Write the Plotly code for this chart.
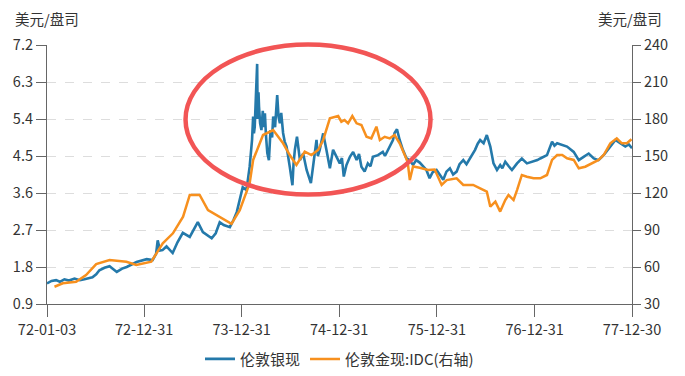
import plotly.graph_objects as go

# ---- data ----
silver_dates = [
    "1972-01-03", "1972-01-20", "1972-02-06", "1972-02-20", "1972-03-08", "1972-03-25", "1972-04-15",
    "1972-05-05", "1972-05-22", "1972-06-21", "1972-07-05",
    "1972-07-17", "1972-08-05", "1972-08-24", "1972-09-20", "1972-10-10", "1972-10-27", "1972-11-15",
    "1972-12-03", "1973-01-10",
    "1973-02-01", "1973-02-14", "1973-02-20", "1973-03-01", "1973-03-10", "1973-03-25", "1973-04-17",
    "1973-05-05", "1973-05-25", "1973-06-20", "1973-07-05",
    "1973-07-20", "1973-08-08", "1973-08-25", "1973-09-10", "1973-09-25", "1973-10-10", "1973-10-25",
    "1973-11-17", "1973-12-01", "1973-12-13",
    "1974-01-04", "1974-01-18", "1974-01-30", "1974-02-08", "1974-02-12", "1974-02-15", "1974-02-18",
    "1974-02-22", "1974-02-27", "1974-03-01", "1974-03-04",
    "1974-03-06", "1974-03-10", "1974-03-15", "1974-03-20", "1974-03-24", "1974-03-28",
    "1974-04-01", "1974-04-06", "1974-04-12", "1974-04-18",
    "1974-04-24", "1974-04-28", "1974-05-05", "1974-05-10", "1974-05-13", "1974-05-18", "1974-05-23",
    "1974-05-28", "1974-06-04", "1974-06-10", "1974-06-17", "1974-06-29",
    "1974-07-09", "1974-07-13", "1974-07-18", "1974-07-26", "1974-08-01", "1974-08-06", "1974-08-18",
    "1974-08-24", "1974-08-31",
    "1974-09-16", "1974-09-24", "1974-10-01", "1974-10-07", "1974-10-12", "1974-10-19", "1974-11-01",
    "1974-11-07", "1974-11-13",
    "1974-11-26", "1974-12-02", "1974-12-08", "1974-12-21", "1975-01-02", "1975-01-10", "1975-01-17",
    "1975-01-27",
    "1975-02-09", "1975-02-21", "1975-03-06", "1975-03-15", "1975-03-24", "1975-04-05", "1975-04-17",
    "1975-04-27", "1975-05-06", "1975-05-25", "1975-06-12", "1975-06-20", "1975-07-01", "1975-07-20",
    "1975-07-26",
    "1975-08-04", "1975-08-14", "1975-08-26", "1975-09-08", "1975-09-20", "1975-10-03", "1975-10-15",
    "1975-10-28",
    "1975-11-10", "1975-11-22", "1975-12-04", "1975-12-15", "1975-12-30", "1976-01-10", "1976-01-24",
    "1976-02-05", "1976-02-18", "1976-03-01", "1976-03-14",
    "1976-03-25", "1976-04-08", "1976-04-20", "1976-05-03", "1976-05-22", "1976-06-01", "1976-06-10",
    "1976-06-23", "1976-07-05",
    "1976-07-18", "1976-07-30", "1976-08-12", "1976-08-24", "1976-09-01", "1976-09-12", "1976-09-25",
    "1976-10-07",
    "1976-10-26", "1976-11-13", "1976-12-02", "1976-12-27", "1977-01-10", "1977-01-21", "1977-02-15",
    "1977-03-06", "1977-03-15", "1977-03-25", "1977-04-13", "1977-05-01", "1977-05-26", "1977-06-14",
    "1977-07-02", "1977-07-21", "1977-08-09", "1977-08-27", "1977-09-15", "1977-10-10",
    "1977-10-20", "1977-10-29", "1977-11-16", "1977-12-05", "1977-12-18", "1977-12-30",
]
silver_values = [
    1.40, 1.46, 1.48, 1.44, 1.50, 1.47, 1.52,
    1.48, 1.50, 1.55, 1.62,
    1.72, 1.78, 1.82, 1.68, 1.76, 1.80, 1.86,
    1.92, 1.99,
    1.97, 2.12, 2.45, 2.20, 2.21, 2.30, 2.14,
    2.40, 2.63, 2.53, 2.70,
    2.89, 2.65, 2.58, 2.50, 2.62, 2.89, 2.82,
    2.77, 2.95, 3.14,
    3.74, 3.67, 4.24, 4.90, 5.46, 5.05, 5.21,
    5.85, 6.74, 5.40, 6.05,
    5.70, 5.30, 5.13, 5.60, 5.20, 5.54,
    5.00, 4.57, 4.40, 5.13,
    4.95, 5.46, 5.20, 5.70, 5.98, 5.45, 5.30,
    5.55, 5.06, 4.85, 4.73, 4.24,
    3.79, 4.30, 4.65, 4.97, 4.70, 4.40, 4.56,
    4.35, 4.16,
    3.84, 4.24, 4.55, 4.89, 4.50, 4.65, 5.05,
    4.80, 4.65,
    4.20, 4.45, 4.65, 4.48, 4.32, 4.45, 4.00,
    4.28,
    4.48, 4.60, 4.40, 4.55, 4.24, 4.12, 4.32,
    4.25, 4.48, 4.52, 4.60, 4.50, 4.65, 4.89,
    5.06,
    5.15, 4.89, 4.65, 4.45, 4.40, 4.28, 4.40,
    4.34,
    4.25, 4.16, 3.96, 4.10, 4.16, 4.05, 3.92,
    4.12, 4.20, 4.05, 4.12,
    4.30, 4.40, 4.30, 4.44, 4.65, 4.80, 4.89,
    4.81, 5.01,
    4.73, 4.32, 4.16, 4.28, 4.20, 4.36, 4.25,
    4.16,
    4.32, 4.44, 4.32, 4.36, 4.40, 4.44, 4.52,
    4.85, 4.75, 4.81, 4.77, 4.73, 4.60, 4.40,
    4.48, 4.56, 4.44, 4.40, 4.52, 4.73,
    4.80, 4.89, 4.81, 4.73, 4.78, 4.69,
]

gold_dates = [
    "1972-01-31", "1972-03-02", "1972-04-21", "1972-05-28", "1972-07-05", "1972-08-24",
    "1972-10-26", "1972-12-02", "1973-01-27", "1973-03-11", "1973-04-18", "1973-05-26",
    "1973-06-20", "1973-07-27", "1973-08-27", "1973-10-10", "1973-11-23", "1973-12-24",
    "1974-01-30", "1974-02-12", "1974-03-08", "1974-03-21", "1974-04-28", "1974-06-04",
    "1974-06-29", "1974-07-24", "1974-08-24", "1974-09-18", "1974-10-13", "1974-11-01",
    "1974-11-26", "1974-12-27", "1975-01-08", "1975-01-20", "1975-02-02", "1975-02-18",
    "1975-03-06", "1975-03-24", "1975-04-12", "1975-04-30", "1975-05-19", "1975-06-01",
    "1975-06-19", "1975-07-08", "1975-07-26", "1975-08-14", "1975-09-02", "1975-09-13",
    "1975-09-21", "1975-10-03", "1975-10-28", "1975-11-28", "1975-12-23", "1976-01-18",
    "1976-02-06", "1976-03-14", "1976-04-08", "1976-05-15", "1976-06-10", "1976-07-05",
    "1976-07-18", "1976-08-06", "1976-08-24", "1976-09-12", "1976-09-24", "1976-10-13",
    "1976-10-26", "1976-11-13", "1976-12-02", "1976-12-27", "1977-01-21", "1977-02-15",
    "1977-03-06", "1977-03-25", "1977-04-13", "1977-05-01", "1977-05-26", "1977-06-14",
    "1977-07-08", "1977-08-02", "1977-08-27", "1977-09-15", "1977-10-10", "1977-11-03",
    "1977-11-22", "1977-12-11", "1977-12-28",
]
gold_values = [
    44.0, 46.8, 48.0, 53.5, 62.4, 65.7,
    64.3, 61.6, 64.3, 79.2, 87.3, 100.8,
    118.4, 118.4, 106.2, 100.8, 95.0, 106.0,
    127.9, 146.8, 160.0, 167.0, 171.0, 160.3,
    150.8, 142.7, 153.5, 150.8, 154.9, 163.0,
    180.6, 182.4, 177.8, 179.2, 176.5, 182.4,
    176.5, 175.1, 165.6, 164.3, 173.8, 163.0,
    165.6, 164.3, 167.0, 160.3, 150.8, 145.0,
    130.5, 141.5, 140.5, 138.6, 139.0, 126.5,
    130.5, 131.9, 126.5, 126.5, 123.8, 121.1,
    108.9, 113.0, 104.9, 114.3, 118.4, 114.3,
    122.4, 134.6, 133.2, 131.9, 131.9, 134.6,
    146.8, 150.8, 150.8, 148.1, 146.8, 140.0,
    141.3, 144.1, 146.8, 150.8, 160.3, 164.3,
    160.3, 160.3, 163.6,
]

x_tick_dates = ["1972-01-03", "1972-12-31", "1973-12-31", "1974-12-31",
                "1975-12-31", "1976-12-31", "1977-12-30"]
x_tick_labels = ["72-01-03", "72-12-31", "73-12-31", "74-12-31",
                 "75-12-31", "76-12-31", "77-12-30"]
left_ticks = [0.9, 1.8, 2.7, 3.6, 4.5, 5.4, 6.3, 7.2]
right_ticks = [30, 60, 90, 120, 150, 180, 210, 240]

FONT = "Microsoft YaHei, Noto Sans CJK SC, sans-serif"
TXT = "#333333"
AX = "#666666"
FS = 14.5

fig = go.Figure()
fig.add_trace(go.Scatter(x=silver_dates, y=silver_values, name="伦敦银现",
                         mode="lines", line=dict(color="#2479AA", width=2.6)))
fig.add_trace(go.Scatter(x=gold_dates, y=gold_values, name="伦敦金现:IDC(右轴)",
                         mode="lines", line=dict(color="#F7901E", width=2.5),
                         yaxis="y2"))

fig.update_layout(
    width=685, height=376,
    margin=dict(l=47, r=53, t=45, b=72, autoexpand=False),
    paper_bgcolor="white", plot_bgcolor="white",
    font=dict(family=FONT, size=FS, color=TXT),
    showlegend=True,
    legend=dict(orientation="h", x=0.5, xanchor="center", y=-0.213, yanchor="middle",
                font=dict(size=15, color=TXT), bgcolor="rgba(0,0,0,0)"),
    xaxis=dict(type="date", range=["1972-01-03", "1977-12-30"],
               tickvals=x_tick_dates, ticktext=x_tick_labels, automargin=False,
               showgrid=False, showline=True, linecolor=AX, linewidth=1.2,
               ticks="outside", ticklen=12, tickcolor=AX, zeroline=False,
               tickfont=dict(size=FS, color=TXT)),
    yaxis=dict(range=[0.9, 7.2], tickvals=left_ticks, ticktext=[f"{v:.1f}" for v in left_ticks],
               automargin=False,
               showgrid=True, gridcolor="#dddddd", griddash="dash", gridwidth=1,
               showline=True, linecolor=AX, linewidth=1.2,
               ticks="outside", ticklen=10, tickcolor=AX, zeroline=False,
               tickfont=dict(size=FS, color=TXT)),
    yaxis2=dict(range=[30, 240], tickvals=right_ticks, overlaying="y", side="right",
                automargin=False,
                showgrid=False, showline=True, linecolor=AX, linewidth=1.2,
                ticks="outside", ticklen=8, tickcolor=AX, zeroline=False,
                tickfont=dict(size=FS, color=TXT)),
    annotations=[
        dict(text="美元/盘司", xref="paper", yref="paper", x=-0.058, y=1.0 + 26 / 259,
             xanchor="left", yanchor="middle", showarrow=False,
             font=dict(size=FS, color=TXT)),
        dict(text="美元/盘司", xref="paper", yref="paper", x=1.055, y=1.0 + 26 / 259,
             xanchor="right", yanchor="middle", showarrow=False,
             font=dict(size=FS, color=TXT)),
    ],
    shapes=[
        dict(type="circle", xref="paper", yref="paper",
             x0=0.2368, x1=0.6556, y0=0.4228, y1=1.002,
             line=dict(color="#F25555", width=4.5), layer="above"),
    ],
)

fig.write_html("out.html", config={"displayModeBar": False},
               post_script="document.body.style.margin='0';")
